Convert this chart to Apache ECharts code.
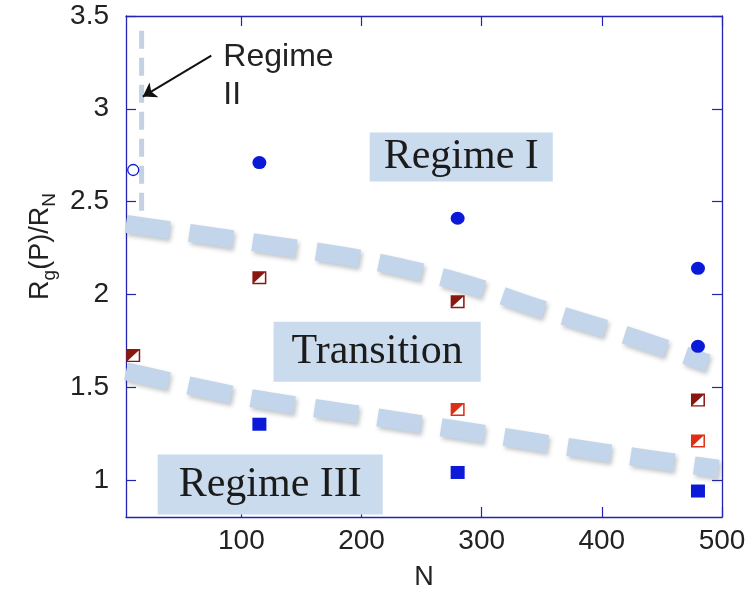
<!DOCTYPE html>
<html>
<head>
<meta charset="utf-8">
<script src="https://cdn.jsdelivr.net/npm/echarts@6/dist/echarts.min.js"></script>
<style>
  html, body { margin: 0; padding: 0; background: #fff; }
  #chart { width: 751px; height: 596px; }
</style>
</head>
<body>
<div id="chart"></div>
<script>
// Measured points: chain length N vs. R_g(P)/R_N
const regimeIN = [115, 280, 480, 480];
const regimeIR = [2.71, 2.41, 2.14, 1.72];
const regimeIIN = [10];
const regimeIIR = [2.67];
const transDarkN = [10, 115, 280, 480];
const transDarkR = [1.67, 2.09, 1.96, 1.43];
const transRedN = [280, 480];
const transRedR = [1.38, 1.21];
const regimeIIIN = [115, 280, 480];
const regimeIIIR = [1.30, 1.04, 0.94];

// Regime boundaries
const upperBoundN = [4, 100, 200, 280, 350, 420, 488];
const upperBoundR = [2.38, 2.29, 2.19, 2.07, 1.92, 1.78, 1.63];
const lowerBoundN = [4, 100, 200, 300, 400, 497];
const lowerBoundR = [1.585, 1.45, 1.35, 1.25, 1.15, 1.06];
const regimeIIBoundN = [17, 17];
const regimeIIBoundR = [3.42, 2.39];

// Region labels
const regionNames = ['Regime I', 'Transition', 'Regime III'];
const regionN = [283, 213, 124];
const regionR = [2.74, 1.69, 0.975];
const regionPad = [[4, 14, 3, 14], [9, 18, 9, 18], [9, 21, 9, 21]];

const noteText = 'Regime\nII';
const noteN = [85];
const noteR = [3.38];
const arrowN = [75, 18];
const arrowR = [3.286, 3.066];

// Axis ticks
const xTicks = [100, 200, 300, 400, 500];
const yTicks = [1, 1.5, 2, 2.5, 3, 3.5];

const zip = (a, b) => a.map((v, i) => [v, b[i]]);

const SANS = '"Liberation Sans", Arial, sans-serif';
const SERIF = '"Liberation Serif", "Times New Roman", serif';
const AXIS = '#2424b4';
const BLUE = '#0a1ad8';
const DARKRED = '#8a1710';
const RED = '#de2e14';
const BAND = '#c3d5ea';

// Square outline with the upper-left triangle filled
const halfSquare = 'path://M0,0 L12,0 L12,12 L0,12 Z M1.3,1.3 L1.3,10.7 L10.7,10.7 L10.7,1.3 Z M1.3,1.3 L10.7,1.3 L1.3,10.7 Z';

const chart = echarts.init(document.getElementById('chart'), null, { renderer: 'canvas' });

const axisCommon = {
  axisLine: { show: true, onZero: false, lineStyle: { color: AXIS, width: 1.3 } },
  axisTick: { show: true, inside: true, length: 10, lineStyle: { color: AXIS, width: 1.2 } },
  splitLine: { show: false }
};

const bandStyle = {
  color: BAND, width: 18, type: [44, 20], cap: 'butt',
  shadowColor: 'rgba(40,50,70,0.28)', shadowBlur: 4, shadowOffsetX: 2, shadowOffsetY: 3
};

chart.setOption({
  animation: false,
  backgroundColor: '#ffffff',
  grid: { left: 126, right: 29, top: 16, bottom: 79 },
  xAxis: [
    Object.assign({}, axisCommon, {
      type: 'value', min: 4, max: 500, position: 'bottom',
      name: 'N', nameLocation: 'middle', nameGap: 47,
      nameTextStyle: { fontFamily: SANS, fontSize: 27, color: '#222' },
      axisTick: Object.assign({}, axisCommon.axisTick, { customValues: xTicks }),
      axisLabel: { customValues: xTicks, fontFamily: SANS, fontSize: 28, color: '#222', margin: 10 }
    }),
    Object.assign({}, axisCommon, {
      type: 'value', min: 4, max: 500, position: 'top',
      axisTick: Object.assign({}, axisCommon.axisTick, { customValues: xTicks }),
      axisLabel: { show: false }
    })
  ],
  yAxis: [
    Object.assign({}, axisCommon, {
      type: 'value', min: 0.8, max: 3.5, position: 'left',
      name: '{gap| }{m|R}{s|g}{m|(P)/R}{s|N}', nameLocation: 'middle', nameGap: 70, nameRotate: 90,
      nameTextStyle: {
        rich: {
          gap: { width: 40, fontSize: 10 },
          m: { fontFamily: SANS, fontSize: 27, color: '#222', lineHeight: 30 },
          s: { fontFamily: SANS, fontSize: 19, color: '#222', lineHeight: 18, padding: [18, 0, 0, 0] }
        }
      },
      axisTick: Object.assign({}, axisCommon.axisTick, { customValues: yTicks }),
      axisLabel: { customValues: yTicks, fontFamily: SANS, fontSize: 28, color: '#222', margin: 17 }
    }),
    Object.assign({}, axisCommon, {
      type: 'value', min: 0.8, max: 3.5, position: 'right',
      axisTick: Object.assign({}, axisCommon.axisTick, { customValues: yTicks }),
      axisLabel: { show: false }
    })
  ],
  series: [
    {
      name: 'upper boundary', type: 'line', data: zip(upperBoundN, upperBoundR),
      smooth: 0.3, symbol: 'none', z: 1, clip: false, lineStyle: bandStyle
    },
    {
      name: 'lower boundary', type: 'line', data: zip(lowerBoundN, lowerBoundR),
      smooth: 0.3, symbol: 'none', z: 1, clip: false, lineStyle: bandStyle
    },
    {
      name: 'regime II boundary', type: 'line', data: zip(regimeIIBoundN, regimeIIBoundR),
      symbol: 'none', z: 1, clip: false,
      lineStyle: { color: '#c3d1e2', width: 5, type: [18, 9], cap: 'butt' }
    },
    {
      name: 'regions', type: 'custom', z: 2,
      data: zip(regionN, regionR),
      renderItem: function (params, api) {
        const p = api.coord([api.value(0), api.value(1)]);
        return {
          type: 'text', x: p[0], y: p[1],
          style: {
            text: regionNames[params.dataIndex],
            font: '42px ' + SERIF, fill: '#1b1b1b',
            align: 'center', verticalAlign: 'middle',
            backgroundColor: '#cadbee', padding: regionPad[params.dataIndex]
          }
        };
      }
    },
    {
      name: 'note', type: 'custom', z: 3,
      data: zip(noteN, noteR),
      renderItem: function (params, api) {
        const p = api.coord([api.value(0), api.value(1)]);
        return {
          type: 'text', x: p[0], y: p[1],
          style: {
            text: noteText, font: '32px ' + SANS, fill: '#222',
            align: 'left', verticalAlign: 'top', lineHeight: 38
          }
        };
      }
    },
    {
      name: 'arrow', type: 'lines', coordinateSystem: 'cartesian2d', z: 3,
      symbol: ['none', 'arrow'], symbolSize: 13,
      lineStyle: { color: '#111', width: 2, opacity: 1 },
      data: [{ coords: zip(arrowN, arrowR) }]
    },
    {
      name: 'Regime I', type: 'scatter', z: 5, data: zip(regimeIN, regimeIR),
      symbol: 'circle', symbolSize: [14, 13], itemStyle: { color: BLUE, opacity: 1 }
    },
    {
      name: 'Regime II', type: 'scatter', z: 5, data: zip(regimeIIN, regimeIIR),
      symbol: 'circle', symbolSize: 11,
      itemStyle: { color: '#fff', borderColor: BLUE, borderWidth: 1.3, opacity: 1 }
    },
    {
      name: 'Transition (long)', type: 'scatter', z: 5, data: zip(transDarkN, transDarkR),
      symbol: halfSquare, symbolSize: [14, 13], itemStyle: { color: DARKRED, opacity: 1 }
    },
    {
      name: 'Transition (short)', type: 'scatter', z: 5, data: zip(transRedN, transRedR),
      symbol: halfSquare, symbolSize: [14, 13], itemStyle: { color: RED, opacity: 1 }
    },
    {
      name: 'Regime III', type: 'scatter', z: 5, data: zip(regimeIIIN, regimeIIIR),
      symbol: 'rect', symbolSize: [14, 13], itemStyle: { color: BLUE, opacity: 1 }
    }
  ]
});
</script>
</body>
</html>
